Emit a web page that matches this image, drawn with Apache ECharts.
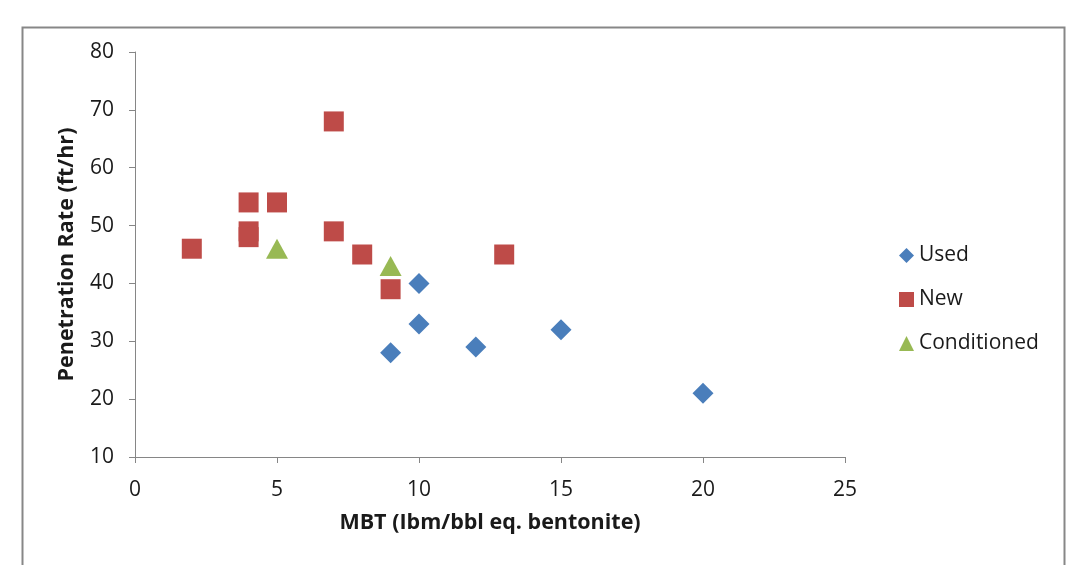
<!DOCTYPE html>
<html>
<head>
<meta charset="utf-8">
<script src="https://cdn.jsdelivr.net/npm/echarts@6/dist/echarts.min.js"></script>
<style>html,body{margin:0;padding:0;background:#fff}#c{width:1076px;height:565px}</style>
</head>
<body>
<div id="c"></div>
<script>
const usedX = [9, 10, 10, 12, 15, 20];
const usedY = [28, 40, 33, 29, 32, 21];
const newX = [2, 4, 4, 4, 5, 7, 7, 8, 9, 13];
const newY = [46, 54, 49, 48, 54, 68, 49, 45, 39, 45];
const condX = [5, 9];
const condY = [46, 43];
const xTicks = [0, 5, 10, 15, 20, 25];
const yTicks = [10, 20, 30, 40, 50, 60, 70, 80];

const pairs = (xs, ys) => xs.map((x, i) => [x, ys[i]]);
const font = '"Open Sans", sans-serif';
const axisColor = '#868686';
const textColor = '#1a1a1a';

const chart = echarts.init(document.getElementById('c'), null, {renderer: 'canvas'});
chart.setOption({
  animation: false,
  backgroundColor: '#fff',
  graphic: [{
    type: 'rect', left: 20, top: 25, silent: true,
    shape: {x: 0, y: 0, width: 1042, height: 560},
    style: {fill: 'none', stroke: '#878787', lineWidth: 2}
  }],
  grid: {left: 135, right: 231, top: 52, bottom: 108},
  legend: {
    orient: 'vertical', left: 894, top: 240, itemGap: 23,
    itemWidth: 15, itemHeight: 15,
    textStyle: {fontFamily: font, fontSize: 21, color: textColor},
    data: ['Used', 'New', 'Conditioned']
  },
  xAxis: {
    type: 'value', min: xTicks[0], max: xTicks[xTicks.length - 1], interval: 5,
    name: 'MBT (Ibm/bbl eq. bentonite)', nameLocation: 'middle', nameGap: 55,
    nameTextStyle: {fontFamily: font, fontSize: 21.5, fontWeight: 'bold', color: textColor},
    axisLine: {show: true, onZero: false, lineStyle: {color: axisColor, width: 1}},
    axisTick: {show: true, length: 6, lineStyle: {color: axisColor}},
    axisLabel: {fontFamily: font, fontSize: 21, color: textColor, margin: 23},
    splitLine: {show: false}
  },
  yAxis: {
    type: 'value', min: yTicks[0], max: yTicks[yTicks.length - 1], interval: 10,
    name: 'Penetration Rate (ft/hr)', nameLocation: 'middle', nameGap: 57, nameRotate: 90,
    nameTextStyle: {fontFamily: font, fontSize: 21.5, fontWeight: 'bold', color: textColor},
    axisLine: {show: true, onZero: false, lineStyle: {color: axisColor, width: 1}},
    axisTick: {show: true, length: 6, lineStyle: {color: axisColor}},
    axisLabel: {fontFamily: font, fontSize: 21, color: textColor, margin: 21},
    splitLine: {show: false}
  },
  series: [
    {name: 'Used', type: 'scatter', symbol: 'diamond', symbolSize: 21,
     itemStyle: {color: '#4A7EBB', opacity: 1}, data: pairs(usedX, usedY)},
    {name: 'New', type: 'scatter', symbol: 'rect', symbolSize: 20,
     itemStyle: {color: '#BE4B48', opacity: 1}, data: pairs(newX, newY)},
    {name: 'Conditioned', type: 'scatter', symbol: 'triangle', symbolSize: [22, 20],
     itemStyle: {color: '#98B954', opacity: 1}, data: pairs(condX, condY)}
  ]
});
</script>
</body>
</html>
